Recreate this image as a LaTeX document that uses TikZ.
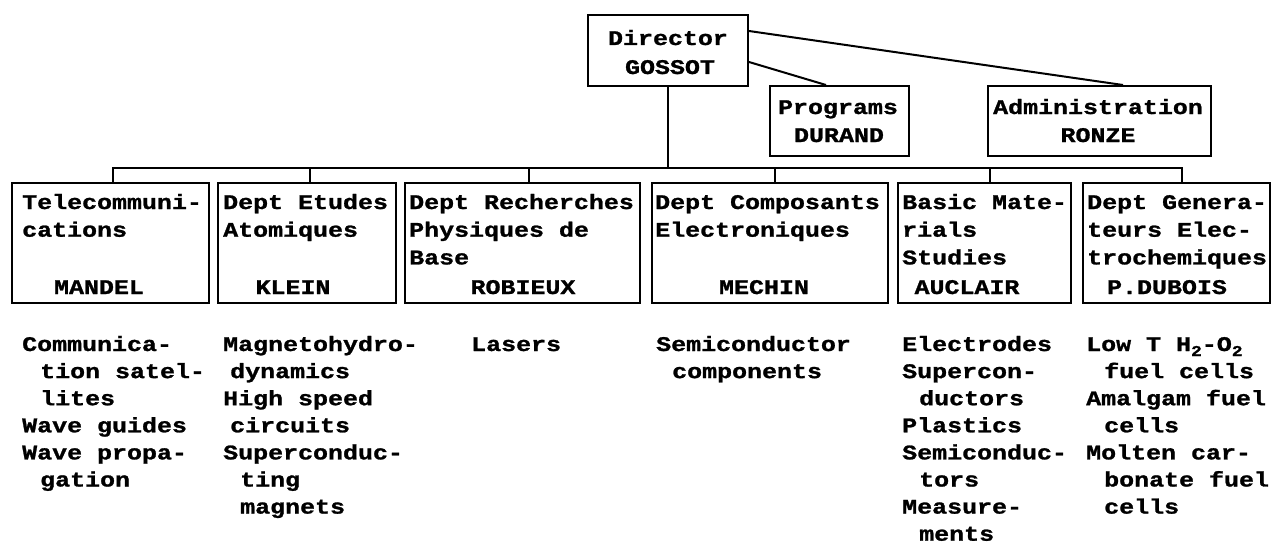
\documentclass[tikz,border=0pt]{standalone}
\usepackage{fontspec}
\newfontfamily\tw[FakeStretch=1.2, BoldFeatures={FakeBold=1.2}]{Liberation Mono}
\newcommand{\ind}[1][18pt]{\hspace*{#1}}
\newcommand{\col}[1]{\begin{tabular}[t]{@{}l@{}}#1\end{tabular}}
\newcommand{\sbs}[1]{\raisebox{-5pt}{\fontsize{15}{15}\selectfont #1}}
\begin{document}
\begin{tikzpicture}[x=1pt,y=-1pt,
  box/.style={draw, line width=2pt, inner sep=0pt, anchor=north west},
  txt/.style={font=\tw\bfseries\fontsize{20.8}{27.7}\selectfont, inner sep=0pt, anchor=base west},
  act/.style={font=\tw\bfseries\fontsize{20.8}{27.1}\selectfont, inner sep=0pt, anchor=base west},
  nm/.style={font=\tw\bfseries\fontsize{20.8}{27.7}\selectfont, inner sep=0pt, anchor=base},
  ln/.style={line width=2pt}]
\useasboundingbox[fill=white] (0,0) rectangle (1271,543);

% top boxes
\node[box, minimum width=160pt, minimum height=71pt] (dir) at (587,14) {};
\node[box, minimum width=139pt, minimum height=70pt] (prog) at (769,85) {};
\node[box, minimum width=223pt, minimum height=70pt] (adm) at (987,85) {};
\node[nm] (dirt) at (668,45) {Director};
\node[nm] (dirn) at (670,74) {GOSSOT};
\node[nm] (progt) at (838,114) {Programs};
\node[nm] (progn) at (839,142) {DURAND};
\node[nm] (admt) at (1098,114) {Administration};
\node[nm] (admn) at (1098,142) {RONZE};

% department boxes
\node[box, minimum width=197pt, minimum height=120pt] (tel) at (11,182) {};
\node[box, minimum width=178pt, minimum height=120pt] (etu) at (217,182) {};
\node[box, minimum width=235pt, minimum height=120pt] (rec) at (404,182) {};
\node[box, minimum width=236pt, minimum height=120pt] (com) at (651,182) {};
\node[box, minimum width=173pt, minimum height=120pt] (bas) at (897,182) {};
\node[box, minimum width=187pt, minimum height=120pt] (gen) at (1082,182) {};

\node[txt] (telt) at (22,209) {\col{Telecommuni-\\cations}};
\node[txt] (etut) at (223,209) {\col{Dept Etudes\\Atomiques}};
\node[txt] (rect) at (409,209) {\col{Dept Recherches\\Physiques de\\Base}};
\node[txt] (comt) at (655,209) {\col{Dept Composants\\Electroniques}};
\node[txt] (bast) at (902,209) {\col{Basic Mate-\\rials\\Studies}};
\node[txt] (gent) at (1087,209) {\col{Dept Genera-\\teurs Elec-\\trochemiques}};

\node[nm] (teln) at (99,294) {MANDEL};
\node[nm] (etun) at (293,294) {KLEIN};
\node[nm] (recn) at (523,294) {ROBIEUX};
\node[nm] (comn) at (764,294) {MECHIN};
\node[nm] (basn) at (967,294) {AUCLAIR};
\node[nm] (genn) at (1167,294) {P.DUBOIS};

% activities
\node[act] (c1) at (22,351) {\col{Communica-\\\ind tion satel-\\\ind lites\\Wave guides\\Wave propa-\\\ind gation}};
\node[act] (c2) at (223,351) {\col{Magnetohydro-\\\ind[7pt]dynamics\\High speed\\\ind[7pt]circuits\\Superconduc-\\\ind[17pt]ting\\\ind[17pt]magnets}};
\node[act] (c3) at (471,351) {\col{Lasers}};
\node[act] (c4) at (656,351) {\col{Semiconductor\\\ind[16pt]components}};
\node[act] (c5) at (902,351) {\col{Electrodes\\Supercon-\\\ind[17pt]ductors\\Plastics\\Semiconduc-\\\ind[17pt]tors\\Measure-\\\ind[17pt]ments}};
\node[act] (c6) at (1086,351) {\col{Low T H\sbs{2}-O\sbs{2}\\\ind fuel cells\\Amalgam fuel\\\ind cells\\Molten car-\\\ind bonate fuel\\\ind cells}};

% connectors
\coordinate (bus) at (0,168);
\draw[ln] ([yshift=19.5pt]dir.east) -- ([xshift=23.5pt]adm.north);
\draw[ln] ([yshift=-11.5pt]dir.east) -- ([xshift=-13.5pt]prog.north);
\draw[ln] (dir.south) -- (dir.south |- bus);
\draw[ln] ([xshift=2.5pt]tel.north) |- ([xshift=5.5pt]gen.north |- bus) -- ([xshift=5.5pt]gen.north);
\draw[ln] ([xshift=3pt]etu.north) -- ([xshift=3pt]etu.north |- bus);
\draw[ln] ([xshift=6.5pt]rec.north) -- ([xshift=6.5pt]rec.north |- bus);
\draw[ln] ([xshift=5pt]com.north) -- ([xshift=5pt]com.north |- bus);
\draw[ln] ([xshift=5.5pt]bas.north) -- ([xshift=5.5pt]bas.north |- bus);
\end{tikzpicture}
\end{document}
